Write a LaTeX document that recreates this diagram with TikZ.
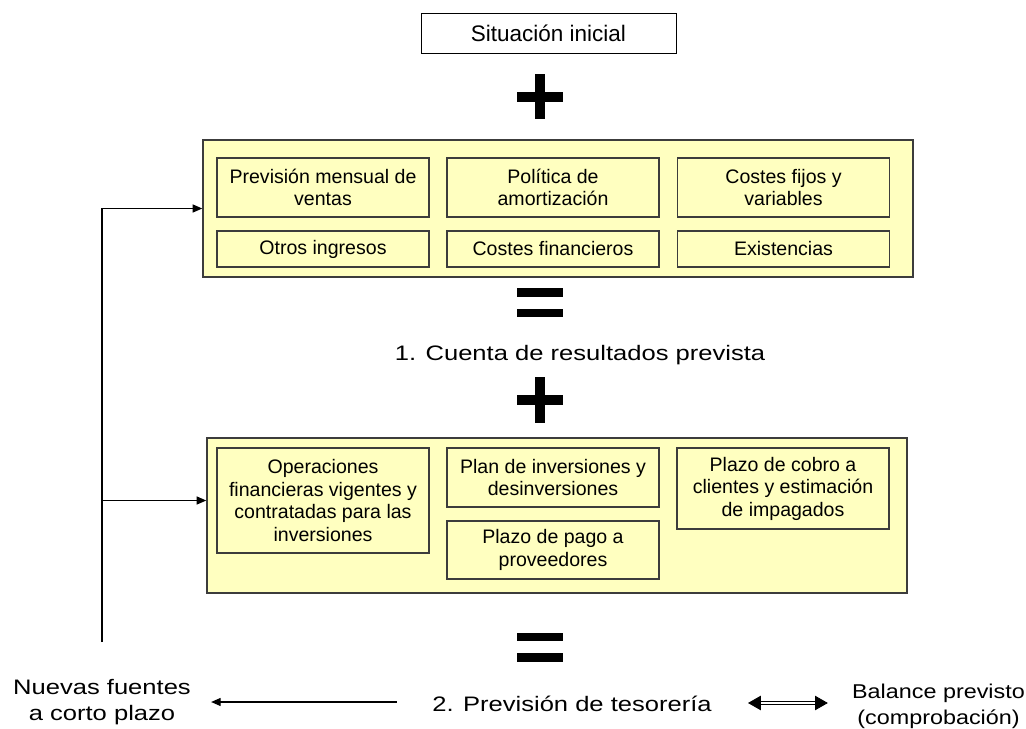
\documentclass[tikz,border=0pt]{standalone}
\usepackage{fontspec}
\setmainfont{Liberation Sans}
\usepackage{graphicx}
\usetikzlibrary{positioning}
\usetikzlibrary{arrows.meta}
\definecolor{paleyellow}{RGB}{255,255,192}
\definecolor{edgegray}{RGB}{60,60,60}

\newcommand{\wider}[2][1.2]{\scalebox{#1}[1]{\begin{tabular}{@{}c@{}}#2\end{tabular}}}

\begin{document}
\begin{tikzpicture}[%
  x=0.025cm, y=-0.025cm,
  >={Triangle[length=2.4mm, width=2mm]},
  panel/.style={draw=edgegray, fill=paleyellow, line width=0.9pt, inner sep=0pt},
  item/.style={draw=edgegray, fill=paleyellow, line width=0.9pt, align=center,
    inner sep=0pt, minimum width=5.3cm, font=\fontsize{13.9}{16}\selectfont},
  bigtext/.style={inner sep=0pt, font=\fontsize{14.9}{17.8}\selectfont},
  sidetext/.style={inner sep=0pt, font=\fontsize{14.2}{17.8}\selectfont},
  flow/.style={->, line width=0.9pt},
]

  \useasboundingbox (0,0) rectangle (1026,729);

  % start
  \node[item, draw=black, fill=white, line width=0.6pt, minimum width=6.375cm,
    minimum height=1cm, font=\fontsize{16}{19}\selectfont]
    (inicial) at (548.5,33) {Situación inicial};

  \fill (517,92) rectangle (563,102);
  \fill (535,74) rectangle (545,119);

  % first block
  \node[panel, minimum width=17.75cm, minimum height=3.425cm] (upper) at (558,208.5) {};
  \node[item, minimum height=1.475cm] (ventas) at (323,187.5) {Previsión mensual de\\ventas};
  \node[item, minimum height=1.475cm] (amort) at (553,187.5) {Política de\\amortización};
  \node[item, minimum height=1.475cm] (costes) at (783.5,187.5) {Costes fijos y\\variables};
  \node[item, minimum height=0.9cm] (otros) at (323,249) {Otros ingresos};
  \node[item, minimum height=0.9cm] (financ) at (553,249) {Costes financieros};
  \node[item, minimum height=0.9cm] (exist) at (783.5,249) {Existencias};

  \fill (517,288) rectangle (563,297);
  \fill (517,309) rectangle (563,317);

  \node[bigtext] (cuenta) at (580,355) {\wider[1.22]{1. Cuenta de resultados prevista}};

  \fill (517,395) rectangle (563,405);
  \fill (535,377) rectangle (545,423);

  % second block
  \node[panel, minimum width=17.5cm, minimum height=3.875cm] (lower) at (557,515.5) {};
  \node[item, minimum height=2.625cm] (oper) at (323,500.5)
    {Operaciones\\financieras vigentes y\\contratadas para las\\inversiones};
  \node[item, minimum height=1.475cm] (plan) at (553,477.5) {Plan de inversiones y\\desinversiones};
  \node[item, minimum height=1.45cm] (pago) at (553,550) {Plazo de pago a\\proveedores};
  \node[item, minimum height=2.025cm] (cobro) at (783,488.5)
    {Plazo de cobro a\\clientes y estimación\\de impagados};

  \fill (517,633) rectangle (563,641);
  \fill (517,653) rectangle (563,662);

  % result
  \node[bigtext] (tesoreria) at (572,706) {\wider[1.22]{2. Previsión de tesorería}};
  \node[bigtext] (nuevas) at (102,702.5) {\wider[1.22]{Nuevas fuentes\\a corto plazo}};
  \node[sidetext] (balance) at (938.5,706.5) {\wider[1.17]{Balance previsto\\(comprobación)}};

  \coordinate (fb) at (102,642);
  \draw[flow] (fb) |- (upper.west);
  \draw[flow] (fb |- oper) -- (oper -| lower.west);

  \draw[flow, shorten <=0.875cm, shorten >=0.5cm]
    ([yshift=0.1cm]tesoreria.west) -- ([yshift=0.1cm]tesoreria.west -| nuevas.east);
  \draw[{Triangle[length=3.2mm, width=3.6mm]}-{Triangle[length=3.2mm, width=3.6mm]},
    double, double distance=1.2pt, line width=0.6pt, shorten <=0.9cm, shorten >=0.6cm]
    ([yshift=0.075cm]tesoreria.east) -- ([yshift=0.075cm]tesoreria.east -| balance.west);

\end{tikzpicture}
\end{document}
